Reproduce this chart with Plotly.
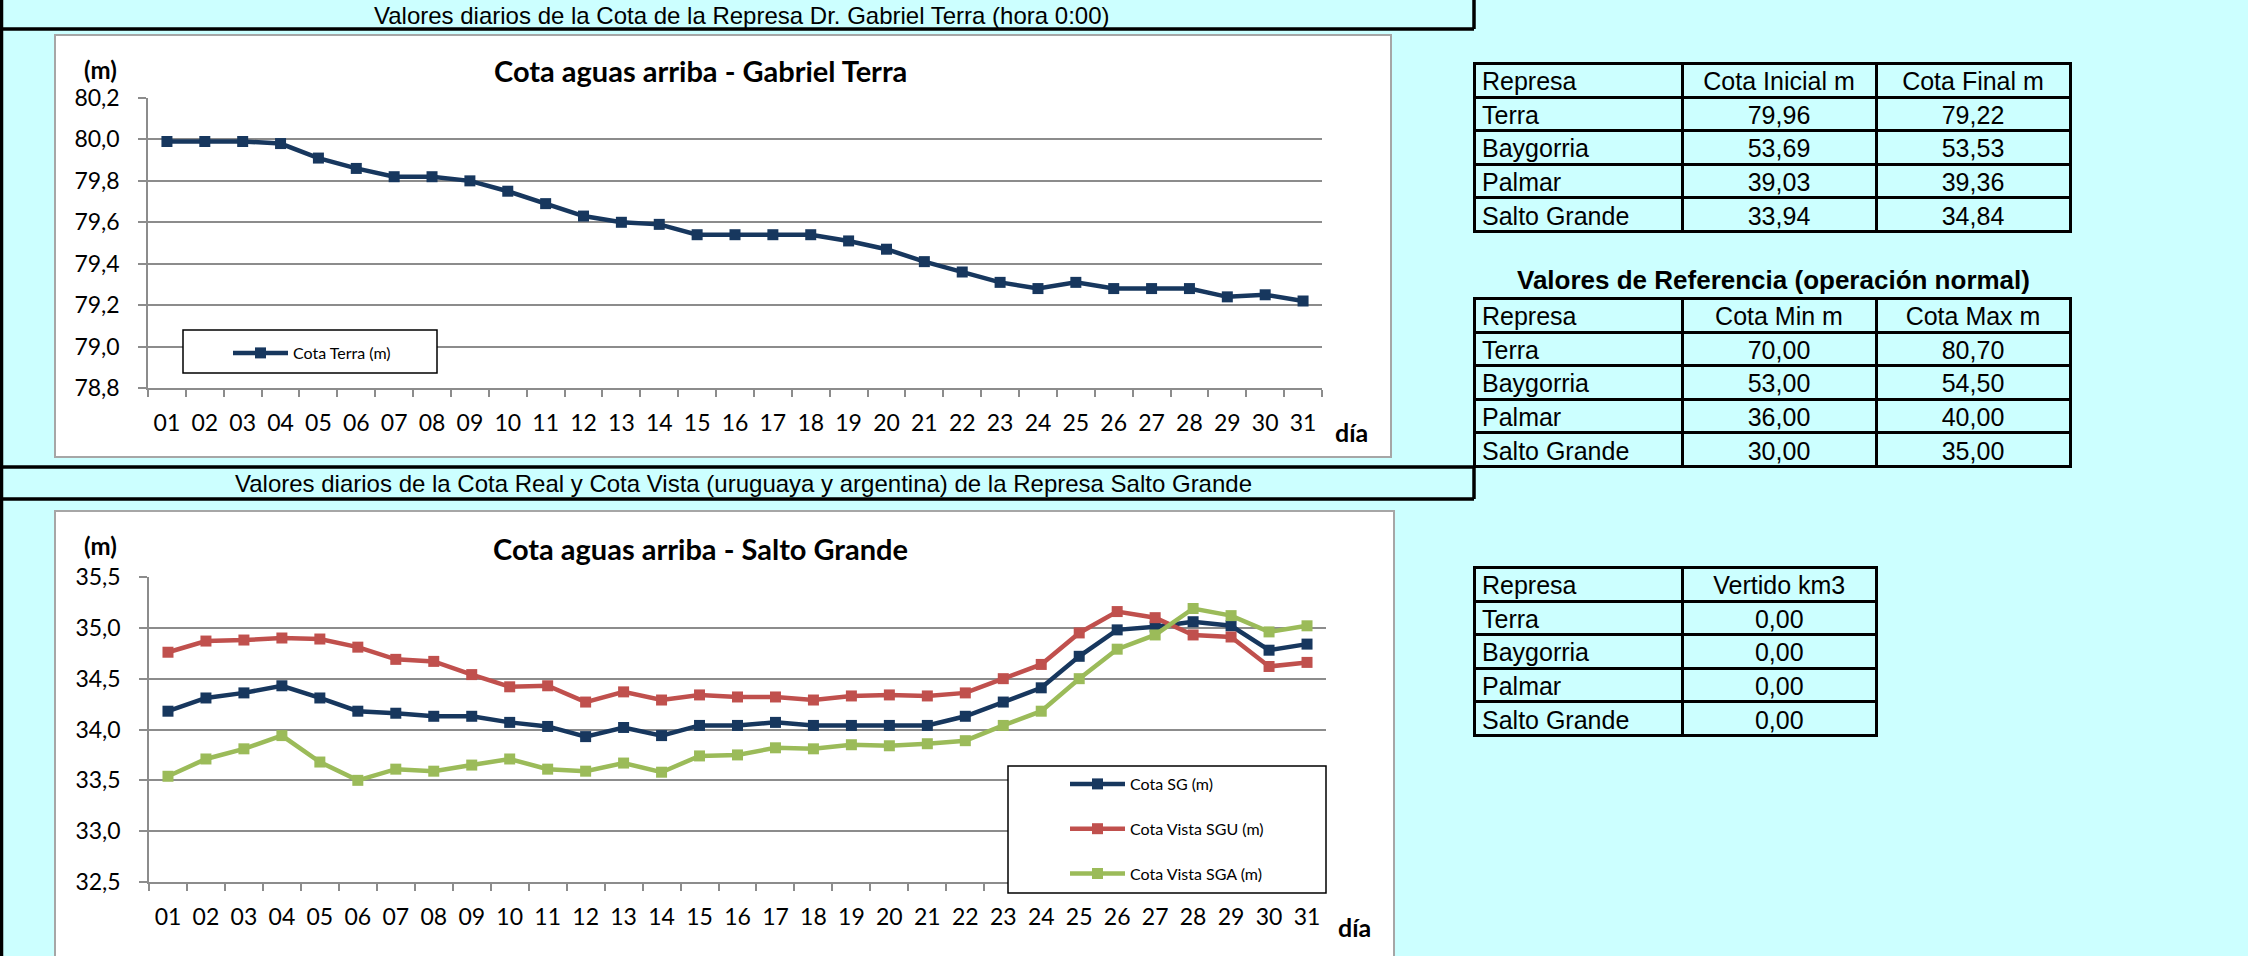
import plotly.graph_objects as go

# ---------------- data ----------------
days = ["01", "02", "03", "04", "05", "06", "07", "08", "09", "10", "11", "12", "13", "14", "15", "16",
        "17", "18", "19", "20", "21", "22", "23", "24", "25", "26", "27", "28", "29", "30", "31"]

cota_terra = [79.99, 79.99, 79.99, 79.98, 79.91, 79.86, 79.82, 79.82, 79.80, 79.75, 79.69, 79.63, 79.60, 79.59,
              79.54, 79.54, 79.54, 79.54, 79.51, 79.47, 79.41, 79.36, 79.31, 79.28, 79.31, 79.28, 79.28, 79.28,
              79.24, 79.25, 79.22]

cota_sg = [34.18, 34.31, 34.36, 34.43, 34.31, 34.18, 34.16, 34.13, 34.13, 34.07, 34.03, 33.93, 34.02, 33.94,
           34.04, 34.04, 34.07, 34.04, 34.04, 34.04, 34.04, 34.13, 34.27, 34.41, 34.72, 34.98, 35.01, 35.06,
           35.02, 34.78, 34.84]

cota_sgu = [34.76, 34.87, 34.88, 34.90, 34.89, 34.81, 34.69, 34.67, 34.54, 34.42, 34.43, 34.27, 34.37, 34.29,
            34.34, 34.32, 34.32, 34.29, 34.33, 34.34, 34.33, 34.36, 34.50, 34.64, 34.95, 35.16, 35.10, 34.93,
            34.91, 34.62, 34.66]

cota_sga = [33.54, 33.71, 33.81, 33.94, 33.68, 33.50, 33.61, 33.59, 33.65, 33.71, 33.61, 33.59, 33.67, 33.58,
            33.74, 33.75, 33.82, 33.81, 33.85, 33.84, 33.86, 33.89, 34.04, 34.18, 34.50, 34.79, 34.93, 35.19,
            35.12, 34.96, 35.02]

represas = ["Terra", "Baygorria", "Palmar", "Salto Grande"]
cota_inicial = [79.96, 53.69, 39.03, 33.94]
cota_final = [79.22, 53.53, 39.36, 34.84]
cota_min = [70.00, 53.00, 36.00, 30.00]
cota_max = [80.70, 54.50, 40.00, 35.00]
vertido = [0.00, 0.00, 0.00, 0.00]

# ---------------- style ----------------
W, H = 2248, 956
CYAN = "#CCFFFF"
NAVY = "#17375E"
RED = "#C0504D"
GREEN = "#9BBB59"
GRID = "#8C8C8C"
CF = "Lato"
TF = "Liberation Sans"


def px(x):
    return x / W


def py(y):
    return 1 - y / H


def fmt(v):
    return f"{v:.2f}".replace(".", ",")


fig = go.Figure()

# ---------------- line traces ----------------
fig.add_trace(go.Scatter(x=days, y=cota_terra, name="Cota Terra (m)", mode="lines+markers",
                         line=dict(color=NAVY, width=4.5), marker=dict(symbol="square", size=11, color=NAVY),
                         xaxis="x", yaxis="y", legend="legend"))
for vals, nm, col in [(cota_sg, "Cota SG (m)", NAVY), (cota_sgu, "Cota Vista SGU (m)", RED),
                      (cota_sga, "Cota Vista SGA (m)", GREEN)]:
    fig.add_trace(go.Scatter(x=days, y=vals, name=nm, mode="lines+markers", legendgroup=nm,
                             line=dict(color=col, width=4.5), marker=dict(symbol="square", size=11, color=col),
                             xaxis="x2", yaxis="y2", legend="legend2"))

# ---------------- tables ----------------
def table(x0, x1, y0, headers, cols, widths):
    return go.Table(
        domain=dict(x=[px(x0), px(x1)], y=[py(y0 + 220), py(y0)]),
        columnwidth=widths,
        header=dict(values=headers, height=34, fill_color=CYAN, line=dict(color="black", width=3),
                    font=dict(family=TF, size=25, color="black"),
                    align=["left"] + ["center"] * (len(headers) - 1)),
        cells=dict(values=cols, height=33.6, fill_color=CYAN, line=dict(color="black", width=3),
                   font=dict(family=TF, size=25, color="black"),
                   align=["left"] + ["center"] * (len(headers) - 1)),
    )


fig.add_trace(table(1474, 2070, 63, ["Represa", "Cota Inicial m", "Cota Final m"],
                    [represas, [fmt(v) for v in cota_inicial], [fmt(v) for v in cota_final]], [208, 194, 194]))
fig.add_trace(table(1474, 2070, 298, ["Represa", "Cota Min m", "Cota Max m"],
                    [represas, [fmt(v) for v in cota_min], [fmt(v) for v in cota_max]], [208, 194, 194]))
fig.add_trace(table(1474, 1877, 567, ["Represa", "Vertido km3"],
                    [represas, [fmt(v) for v in vertido]], [209, 194]))

# ---------------- axes ----------------
def xax(x0, x1, anchor):
    return dict(domain=[px(x0), px(x1)], anchor=anchor, type="category", range=[-0.5, 30.5],
                tickson="boundaries", ticks="outside", ticklen=7, tickwidth=1.5, tickcolor=GRID,
                showline=True, linecolor=GRID, linewidth=1.5, showgrid=False, zeroline=False,
                tickfont=dict(family=CF, size=23, color="black"), ticklabelstandoff=14, fixedrange=True,
                automargin=False)


def yax(y0, y1, anchor, rng, dt):
    return dict(domain=[py(y1), py(y0)], anchor=anchor, range=rng, dtick=dt, tick0=rng[0], tickformat=".1f",
                showgrid=True, gridcolor=GRID, gridwidth=1.5, showline=True, linecolor=GRID, linewidth=1.5,
                ticks="outside", ticklen=8, tickwidth=1.5, tickcolor=GRID, zeroline=False,
                tickfont=dict(family=CF, size=23, color="black"), ticklabelstandoff=14, fixedrange=True,
                automargin=False)


# ---------------- shapes ----------------
shapes = []
# chart boxes
shapes.append(dict(type="rect", xref="paper", yref="paper", x0=px(55), x1=px(1391), y0=py(457), y1=py(35),
                   fillcolor="white", line=dict(color="#A6A6A6", width=2), layer="below"))
shapes.append(dict(type="rect", xref="paper", yref="paper", x0=px(55), x1=px(1394), y0=py(957), y1=py(511),
                   fillcolor="white", line=dict(color="#A6A6A6", width=2), layer="below"))
# legend boxes
shapes.append(dict(type="rect", xref="paper", yref="paper", x0=px(183), x1=px(437), y0=py(373), y1=py(330),
                   fillcolor="white", line=dict(color="black", width=1.5), layer="above"))
shapes.append(dict(type="rect", xref="paper", yref="paper", x0=px(1008), x1=px(1326), y0=py(893), y1=py(766),
                   fillcolor="white", line=dict(color="black", width=1.5), layer="above"))
# banner borders
for (xa, ya, xb, yb) in [(1.5, 0, 1.5, 956), (0, 29, 1474, 29), (1474, 0, 1474, 29),
                         (0, 467, 1474, 467), (0, 499, 1474, 499), (1474, 467, 1474, 499)]:
    shapes.append(dict(type="line", xref="paper", yref="paper", x0=px(xa), x1=px(xb), y0=py(ya), y1=py(yb),
                       line=dict(color="black", width=3.5), layer="above"))

# ---------------- annotations ----------------
def ann(text, x, y, size, family=CF, bold=False, xanchor="center"):
    t = f"<b>{text}</b>" if bold else text
    return dict(text=t, x=px(x), y=py(y), xref="paper", yref="paper", xanchor=xanchor, yanchor="middle",
                showarrow=False, font=dict(family=family, size=size, color="black"))


annotations = [
    ann("Valores diarios de la Cota de la Represa Dr. Gabriel Terra (hora 0:00)", 741, 15, 24, TF),
    ann("Valores diarios de la Cota Real y Cota Vista (uruguaya y argentina) de la Represa Salto Grande", 743, 483,
        24, TF),
    ann("Cota aguas arriba - Gabriel Terra", 700, 70, 29, bold=True),
    ann("Cota aguas arriba - Salto Grande", 700, 548, 29, bold=True),
    ann("(m)", 100, 69, 24, bold=True),
    ann("(m)", 100, 545, 24, bold=True),
    ann("día", 1351, 432, 25, bold=True),
    ann("día", 1354, 927, 25, bold=True),
    ann("Valores de Referencia (operación normal)", 1773, 280, 26, TF, bold=True),
]

legend_common = dict(bgcolor="rgba(0,0,0,0)", borderwidth=0, font=dict(family=CF, size=16, color="black"),
                     xanchor="left", yanchor="middle", itemclick=False, itemdoubleclick=False, itemwidth=55)

fig.update_layout(
    width=W, height=H, margin=dict(l=0, r=0, t=0, b=0, pad=0, autoexpand=False),
    paper_bgcolor=CYAN, plot_bgcolor="rgba(0,0,0,0)",
    separators=",.",
    showlegend=True,
    xaxis=xax(148, 1322, "y"),
    yaxis=yax(98, 388, "x", [78.8, 80.2], 0.2),
    xaxis2=xax(149, 1326, "y2"),
    yaxis2=yax(577, 882, "x2", [32.5, 35.5], 0.5),
    legend=dict(x=px(228), y=py(353), **legend_common),
    legend2=dict(x=px(1065), y=py(829), tracegroupgap=21, **legend_common),
    shapes=shapes,
    annotations=annotations,
)

fig.write_html("out.html", config={"displayModeBar": False},
               post_script="document.body.style.margin='0';document.body.style.padding='0';"
                           "document.documentElement.style.overflow='hidden';")
